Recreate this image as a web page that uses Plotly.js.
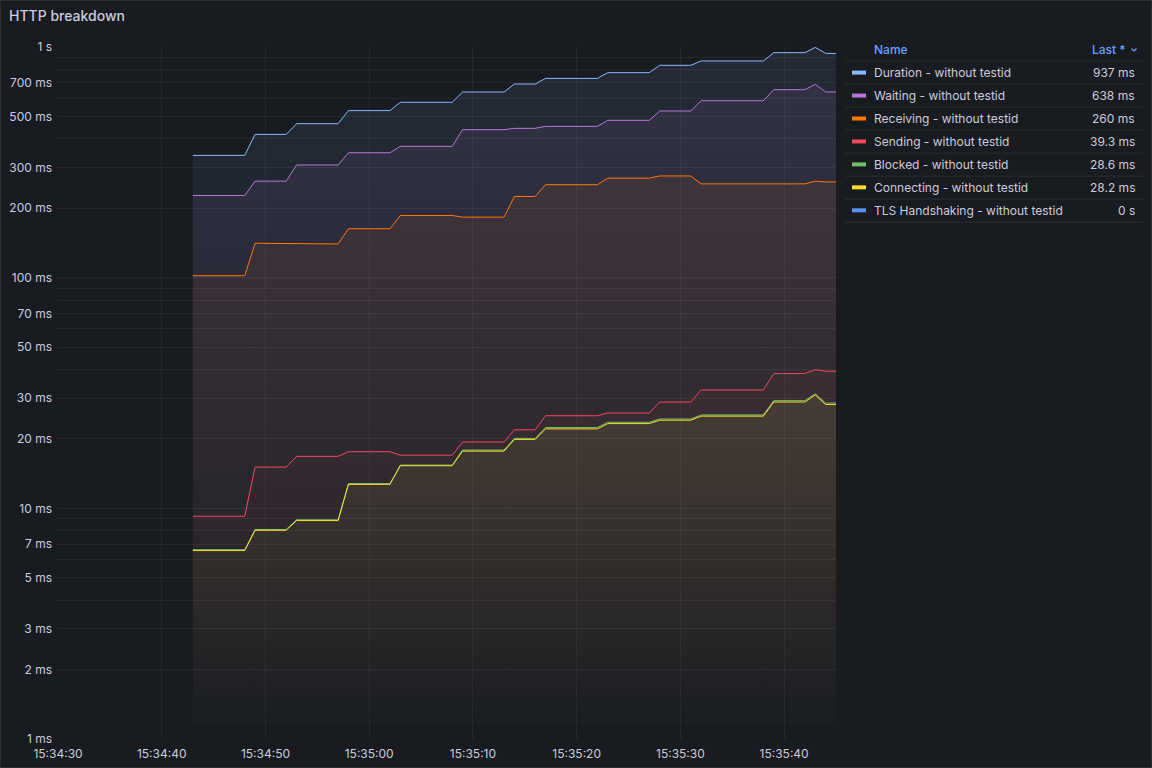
<!DOCTYPE html>
<html>
<head>
<meta charset="utf-8">
<script src="https://cdn.plot.ly/plotly-3.0.1.min.js"></script>
<style>
html,body{margin:0;padding:0;background:#181b1f;}
#chart{width:1152px;height:768px;}
</style>
</head>
<body>
<div id="chart"></div>
<script>
// ---- data ----
const timeLabels = ['15:34:43','15:34:48','15:34:49','15:34:52','15:34:53','15:34:57','15:34:58',
  '15:35:02','15:35:03','15:35:08','15:35:09','15:35:13','15:35:14','15:35:16','15:35:17',
  '15:35:22','15:35:23','15:35:27','15:35:28','15:35:31','15:35:32','15:35:38','15:35:39',
  '15:35:42','15:35:43','15:35:44','15:35:45'];

const durationMs   = [339,339,418,418,465,465,530,530,576,576,638,638,691,691,731,731,774,774,833,833,870,870,945,945,996,939,937];
const waitingMs    = [227,227,262,262,308,308,348,348,371,371,438,438,444,444,453,453,481,481,528,528,585,585,653,653,689,639,638];
const receivingMs  = [102,102,141,141,140,140,163,163,186,186,183,183,225,225,253,253,270,270,276,276,255,255,255,255,262,260,260];
const sendingMs    = [9.24,9.24,15.1,15.1,16.8,16.8,17.6,17.6,17.0,17.0,19.4,19.4,21.9,21.9,25.2,25.2,25.9,25.9,28.9,28.9,32.6,32.6,38.4,38.4,39.9,39.3,39.3];
const blockedMs    = [6.62,6.62,8.1,8.1,8.92,8.92,12.8,12.8,15.4,15.4,17.9,17.9,20.1,20.1,22.4,22.4,23.6,23.6,24.4,24.4,25.4,25.4,29.3,29.3,31.4,28.6,28.6];
const connectingMs = [6.56,6.56,8.03,8.03,8.85,8.85,12.7,12.7,15.3,15.3,17.7,17.7,19.9,19.9,22.1,22.1,23.3,23.3,24.1,24.1,25.1,25.1,28.9,28.9,31.0,28.2,28.2];
const tlsMs        = [0,0,0,0,0,0,0,0,0,0,0,0,0,0,0,0,0,0,0,0,0,0,0,0,0,0,0];

const seriesNames = ['Duration - without testid','Waiting - without testid','Receiving - without testid',
  'Sending - without testid','Blocked - without testid','Connecting - without testid','TLS Handshaking - without testid'];
const seriesColors = ['#8ab8ff','#b877d9','#ff780a','#f2495c','#73bf69','#fade2a','#5794f2'];
const seriesValues = [durationMs, waitingMs, receivingMs, sendingMs, blockedMs, connectingMs, tlsMs];

const yTickVals = [1,2,3,4,5,6,7,8,9,10,20,30,40,50,60,70,80,90,100,200,300,400,500,600,700,800,900,1000];
const yTickText = ['1 ms','2 ms','3 ms','','5 ms','','7 ms','','','10 ms','20 ms','30 ms','','50 ms','','70 ms','','',
  '100 ms','200 ms','300 ms','','500 ms','','700 ms','','','1 s'];
const xRange = ['15:34:30','15:35:45'];
const dateDay = '2024-01-01 ';

// ---- layout helpers (pixel -> paper) ----
const L = 58, R = 836, T = 47, B = 739;
const px = x => (x - L) / (R - L);
const py = y => (B - y) / (B - T);

function hexToRgb(h){ const n = parseInt(h.slice(1),16); return [(n>>16)&255,(n>>8)&255,n&255]; }
function rgba(h,a){ const c = hexToRgb(h); return 'rgba('+c[0]+','+c[1]+','+c[2]+','+a+')'; }
function fmt(v){
  if (v === 0) return '0 s';
  if (v >= 1000) return (v/1000).toPrecision(3) + ' s';
  if (v >= 100) return Math.round(v) + ' ms';
  return v.toPrecision(3) + ' ms';
}

const xs = timeLabels.map(t => dateDay + t);
const traces = seriesValues.map((vals, i) => ({
  type: 'scatter', mode: 'lines', x: xs, y: vals, name: seriesNames[i],
  line: {color: seriesColors[i], width: 1},
  fill: 'tozeroy',
  fillgradient: {type: 'vertical', start: 1, stop: 1000,
    colorscale: [[0, rgba(seriesColors[i], 0)], [1, rgba(seriesColors[i], 0.1)]]},
  hoverinfo: 'skip', showlegend: false
}));

const txt = '#ccccdc';
const annotations = [];
const shapes = [];
// panel border
shapes.push({type:'rect', xref:'paper', yref:'paper', x0:px(0.5), x1:px(1151.5), y0:py(767.5), y1:py(0.5),
  line:{color:'rgba(204,204,220,0.12)', width:1}, layer:'below'});
// legend header
annotations.push({xref:'paper', yref:'paper', x:px(872), y:py(49), xanchor:'left', yanchor:'middle', showarrow:false,
  text:'Name', font:{family:'Inter', size:12, color:'#6e9fff', weight:500}});
annotations.push({xref:'paper', yref:'paper', x:px(1128), y:py(49), xanchor:'right', yanchor:'middle', showarrow:false,
  text:'Last *', font:{family:'Inter', size:12, color:'#6e9fff', weight:500}});
shapes.push({type:'path', xref:'paper', yref:'paper',
  path:'M'+px(1131.5)+','+py(48.5)+' L'+px(1134)+','+py(51)+' L'+px(1136.5)+','+py(48.5),
  line:{color:'#6e9fff', width:1.2}});
for (let k = 0; k < 8; k++) {
  const yy = 61 + k * 23.03;
  shapes.push({type:'line', xref:'paper', yref:'paper', x0:px(845), x1:px(1143), y0:py(yy), y1:py(yy),
    line:{color:'rgba(204,204,220,0.1)', width:1}});
}
seriesNames.forEach((n, i) => {
  const yc = 72.6 + i * 22.95;
  const vals = seriesValues[i];
  shapes.push({type:'rect', xref:'paper', yref:'paper', x0:px(852), x1:px(866), y0:py(yc+2), y1:py(yc-2),
    fillcolor: seriesColors[i], line:{width:0}});
  annotations.push({xref:'paper', yref:'paper', x:px(872), y:py(yc), xanchor:'left', yanchor:'middle', showarrow:false,
    text:n, font:{family:'Inter', size:12, color:txt}});
  annotations.push({xref:'paper', yref:'paper', x:px(1137), y:py(yc), xanchor:'right', yanchor:'middle', showarrow:false,
    text:fmt(vals[vals.length-1]), font:{family:'Inter', size:12, color:txt}});
});

const grid = 'rgba(204,204,220,0.07)';
const layout = {
  width: 1152, height: 768,
  paper_bgcolor: '#181b1f', plot_bgcolor: '#181b1f',
  margin: {l: L, r: 1152 - R, t: T, b: 768 - B, pad: 0},
  font: {family: 'Inter, Roboto, sans-serif', size: 12, color: txt},
  title: {text: 'HTTP breakdown', xref: 'container', yref: 'container', x: 9/1152, xanchor: 'left',
    y: 1 - 16/768, yanchor: 'middle', font: {family: 'Inter', size: 14, color: txt, weight: 500}},
  xaxis: {type: 'date', range: xRange.map(t => dateDay + t), tickformat: '%H:%M:%S', dtick: 10000,
    tick0: dateDay + '15:34:30', showgrid: true, gridcolor: grid, gridwidth: 1, zeroline: false, showline: false,
    ticks: '', ticklabelstandoff: 6, tickfont: {family: 'Inter', size: 12, color: txt}, fixedrange: true},
  yaxis: {type: 'log', range: [0, 3], tickmode: 'array', tickvals: yTickVals, ticktext: yTickText,
    showgrid: true, gridcolor: grid, gridwidth: 1, zeroline: false, showline: false, ticks: '',
    ticklabelstandoff: 5, tickfont: {family: 'Inter', size: 12, color: txt}, fixedrange: true},
  annotations: annotations,
  shapes: shapes,
  showlegend: false
};

Plotly.newPlot('chart', traces, layout, {displayModeBar: false, staticPlot: true});
</script>
</body>
</html>
